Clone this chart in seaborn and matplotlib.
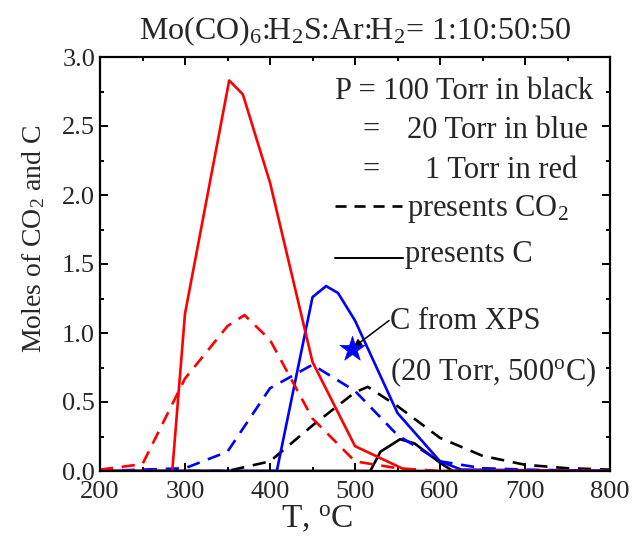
import numpy as np
import pandas as pd
import matplotlib
matplotlib.use("Agg")
import matplotlib.pyplot as plt
import seaborn as sns
from matplotlib.ticker import MultipleLocator

# ---- data ----
T_red_C = [200, 285, 300, 352, 368, 400, 450, 500, 562, 800]
y_red_C = [0.0, 0.0, 1.14, 2.83, 2.73, 2.09, 0.79, 0.18, 0.0, 0.0]
T_red_CO2 = [200, 250, 300, 350, 370, 400, 450, 500, 550, 600, 800]
y_red_CO2 = [0.01, 0.05, 0.67, 1.05, 1.13, 0.95, 0.38, 0.07, 0.02, 0.0, 0.0]

T_blue_C = [200, 408, 450, 466, 480, 500, 550, 600, 625, 800]
y_blue_C = [0.0, 0.0, 1.26, 1.34, 1.29, 1.09, 0.42, 0.07, 0.01, 0.0]
T_blue_CO2 = [200, 300, 350, 400, 450, 500, 550, 600, 650, 700, 800]
y_blue_CO2 = [0.0, 0.02, 0.14, 0.60, 0.77, 0.58, 0.26, 0.07, 0.02, 0.01, 0.0]

T_black_C = [200, 518, 530, 553, 570, 600, 615, 800]
y_black_C = [0.0, 0.0, 0.14, 0.23, 0.20, 0.06, 0.0, 0.0]
T_black_CO2 = [200, 350, 400, 450, 500, 515, 550, 600, 650, 700, 750, 800]
y_black_CO2 = [0.0, 0.0, 0.07, 0.33, 0.57, 0.61, 0.47, 0.24, 0.11, 0.045, 0.02, 0.01]

xps_T = [496]
xps_C = [0.883]

# ---- style ----
sns.set_theme(style="ticks")
plt.rcParams["font.family"] = ["Liberation Serif", "DejaVu Serif"]
plt.rcParams["mathtext.fontset"] = "custom"
plt.rcParams["mathtext.rm"] = "Liberation Serif"
plt.rcParams["mathtext.it"] = "Liberation Serif:italic"
plt.rcParams["mathtext.bf"] = "Liberation Serif:bold"

fig = plt.figure(figsize=(6.34, 5.38), dpi=100)
ax = fig.add_axes([100/634, 67/538, 510/634, 414/538])

lw = 1.9
dash = (5, 3.3)
series = [
    (T_black_CO2, y_black_CO2, "black", True),
    (T_black_C, y_black_C, "black", False),
    (T_blue_CO2, y_blue_CO2, "#0000ff", True),
    (T_blue_C, y_blue_C, "#0000ff", False),
    (T_red_CO2, y_red_CO2, "#ff0000", True),
    (T_red_C, y_red_C, "#ff0000", False),
]
for T, y, c, dashed in series:
    df = pd.DataFrame({"T": T, "y": y})
    sns.lineplot(data=df, x="T", y="y", color=c, lw=lw, ax=ax,
                 estimator=None, sort=False)
    if dashed:
        ax.lines[-1].set_dashes(dash)

sns.scatterplot(x=xps_T, y=xps_C, marker="*", s=360, color="#0000ff",
                edgecolor="#0000ff", linewidth=0.5, ax=ax, zorder=5)

ax.annotate("", xy=(498, 0.895), xytext=(540, 1.09),
            arrowprops=dict(arrowstyle="-|>", color="black", lw=1.1,
                            mutation_scale=12, shrinkA=0, shrinkB=0))

fs = 22
ax.text(541, 1.03, "C from XPS", fontsize=fs, ha="left", va="baseline")
ax.text(541, 0.66, "(20 Torr, 500$^{\\rm o}$C)", fontsize=fs, ha="left", va="baseline")

ax.text(476.5, 2.696, "P = 100 Torr in black", fontsize=fs, ha="left", va="baseline")
ax.text(509.4, 2.411, "=", fontsize=fs, ha="left", va="baseline")
ax.text(561, 2.411, "20 Torr in blue", fontsize=fs, ha="left", va="baseline")
ax.text(509.4, 2.124, "=", fontsize=fs, ha="left", va="baseline")
ax.text(582, 2.124, "1 Torr in red", fontsize=fs, ha="left", va="baseline")
l1, = ax.plot([476.5, 555.3], [1.917, 1.917], color="black", lw=lw)
l1.set_dashes((4.2, 3.0))
ax.text(561, 1.847, "presents CO$_2$", fontsize=fs, ha="left", va="baseline")
ax.plot([476.5, 556.5], [1.54, 1.54], color="black", lw=1.4)
ax.text(558.8, 1.518, "presents C", fontsize=fs, ha="left", va="baseline")

ax.set_xlim(200, 800)
ax.set_ylim(0, 3.0)
ax.xaxis.set_major_locator(MultipleLocator(100))
ax.xaxis.set_minor_locator(MultipleLocator(50))
ax.yaxis.set_major_locator(MultipleLocator(0.5))
ax.yaxis.set_minor_locator(MultipleLocator(0.25))
ax.yaxis.set_major_formatter(matplotlib.ticker.FormatStrFormatter("%.1f"))
ax.tick_params(which="both", direction="in", top=True, right=True,
               labelsize=19, width=1.4, color="black")
ax.tick_params(which="major", length=5.5)
ax.tick_params(which="minor", length=3)
ax.tick_params(axis="x", pad=7)
for s in ax.spines.values():
    s.set_linewidth(1.6)
    s.set_color("black")

ax.set_xlabel("T, $^{\\rm o}$C", fontsize=24)
ax.xaxis.set_label_coords(0.4255, -0.078)
ax.set_ylabel("Moles of CO$_2$ and C", fontsize=20)
ax.yaxis.set_label_coords(-0.104, 0.56)
ax.set_title("Mo(CO)$_6$:H$_2$S:Ar:H$_2$= 1:10:50:50", fontsize=23, pad=13)

fig.savefig("out.png", dpi=100)
